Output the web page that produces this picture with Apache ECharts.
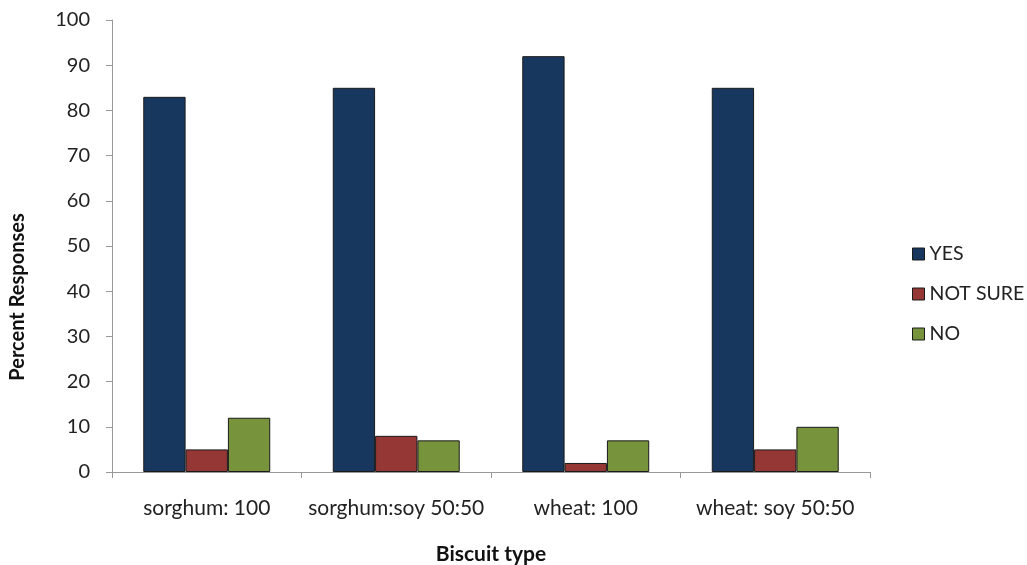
<!DOCTYPE html>
<html>
<head>
<meta charset="utf-8">
<script src="https://cdn.jsdelivr.net/npm/echarts@6/dist/echarts.min.js"></script>
<style>
  html, body { margin: 0; padding: 0; background: #fff; }
  #chart { width: 1027px; height: 565px; }
</style>
</head>
<body>
<div id="chart"></div>
<script>
// biscuit types on the x axis
const categories = ['sorghum: 100', 'sorghum:soy 50:50', 'wheat: 100', 'wheat: soy 50:50'];
const yesValues = [83, 85, 92, 85];
const notSureValues = [5, 8, 2, 5];
const noValues = [12, 7, 7, 10];

const font = 'Lato, "Open Sans", sans-serif';
const chart = echarts.init(document.getElementById('chart'));

function barSeries(name, data, color) {
  return {
    name: name,
    type: 'bar',
    data: data,
    barGap: '0%',
    barCategoryGap: '33%',
    itemStyle: { color: color, borderColor: '#1a1a1a', borderWidth: 1 }
  };
}

const option = {
  animation: false,
  grid: { left: 112, right: 157, top: 20, bottom: 93, outerBoundsMode: 'none' },
  legend: {
    orient: 'vertical',
    left: 907,
    top: 239,
    itemWidth: 12,
    itemHeight: 12,
    itemGap: 20,
    icon: 'rect',
    textStyle: { fontFamily: font, fontSize: 19.5, color: '#222' },
    itemStyle: { borderColor: '#1a1a1a', borderWidth: 1 },
    data: ['YES', 'NOT SURE', 'NO']
  },
  // y axis title sits a bit below the middle of the axis in the original
  graphic: [{
    type: 'text',
    x: 18,
    y: 297,
    rotation: Math.PI / 2,
    style: {
      text: 'Percent Responses',
      fontFamily: font,
      fontSize: 20,
      fontWeight: 'bold',
      fill: '#111',
      align: 'center',
      verticalAlign: 'middle'
    }
  }],
  xAxis: {
    type: 'category',
    data: categories,
    name: 'Biscuit type',
    nameLocation: 'middle',
    nameGap: 72,
    nameTextStyle: { fontFamily: font, fontSize: 21, fontWeight: 'bold', color: '#111' },
    axisLine: { lineStyle: { color: '#999' } },
    axisTick: { show: true, length: 6, lineStyle: { color: '#999' } },
    axisLabel: { interval: 0, fontFamily: font, fontSize: 21, color: '#222', margin: 26 }
  },
  yAxis: {
    type: 'value',
    min: 0,
    max: 100,
    interval: 10,
    axisLine: { show: true, lineStyle: { color: '#999' } },
    axisTick: { show: true, length: 6, lineStyle: { color: '#999' } },
    splitLine: { show: false },
    axisLabel: { fontFamily: font, fontSize: 20, color: '#222', margin: 22 }
  },
  series: [
    barSeries('YES', yesValues, '#17375E'),
    barSeries('NOT SURE', notSureValues, '#953735'),
    barSeries('NO', noValues, '#77933C')
  ]
};

chart.setOption(option);
</script>
</body>
</html>
